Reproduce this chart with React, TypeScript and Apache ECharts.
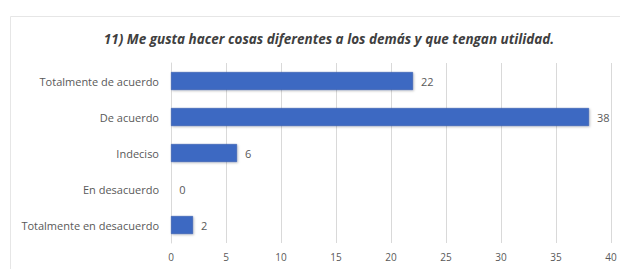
import React, { useEffect, useRef } from "react";
import * as echarts from "echarts";

const categories = [
  "Totalmente de acuerdo",
  "De acuerdo",
  "Indeciso",
  "En desacuerdo",
  "Totalmente en desacuerdo",
];
const values = [22, 38, 6, 0, 2];
const titleText = "11) Me gusta hacer cosas diferentes a los demás y que tengan utilidad.";

export default function App() {
  const ref = useRef<HTMLDivElement>(null);
  useEffect(() => {
    if (!ref.current) return;
    const chart = echarts.init(ref.current, null, { renderer: "svg" });
    chart.setOption({
      animation: false,
      backgroundColor: "#ffffff",
      graphic: [
        {
          type: "rect",
          shape: { x: 10.5, y: 16.5, width: 640, height: 300 },
          style: { fill: "none", stroke: "#e6e6e6", lineWidth: 1 },
          silent: true,
        },
      ],
      title: {
        text: titleText,
        left: 324,
        textAlign: "center",
        top: 27,
        textStyle: {
          fontFamily: "Open Sans",
          fontSize: 13.5,
          fontWeight: "bold",
          fontStyle: "italic",
          color: "#404040",
        },
      },
      grid: { left: 171, right: 9, top: 63, bottom: 26, containLabel: false },
      xAxis: {
        type: "value",
        min: 0,
        max: 40,
        interval: 5,
        axisLine: { show: false },
        axisTick: { show: false },
        splitLine: { lineStyle: { color: "#d9d9d9", width: 1 } },
        axisLabel: {
          color: "#595959",
          fontFamily: "Open Sans",
          fontSize: 10,
          margin: 9,
        },
      },
      yAxis: {
        type: "category",
        data: categories,
        inverse: true,
        axisLine: { show: true, lineStyle: { color: "#d9d9d9" } },
        axisTick: { show: false },
        axisLabel: {
          color: "#595959",
          fontFamily: "Open Sans",
          fontSize: 11,
          margin: 12,
        },
      },
      series: [
        {
          type: "bar",
          data: values,
          barWidth: 18,
          itemStyle: {
            color: "#3e69c2",
            borderColor: "#2f56a8",
            borderWidth: 0.5,
            shadowColor: "rgba(0,0,0,0.25)",
            shadowBlur: 2,
            shadowOffsetX: 1,
            shadowOffsetY: 1,
          },
          label: {
            show: true,
            position: "right",
            distance: 8,
            color: "#595959",
            fontFamily: "Open Sans",
            fontSize: 11,
          },
        },
      ],
    });
    return () => chart.dispose();
  }, []);
  return (
    <div
      ref={ref}
      style={{ position: "fixed", left: 0, top: 0, width: 620, height: 269 }}
    />
  );
}
